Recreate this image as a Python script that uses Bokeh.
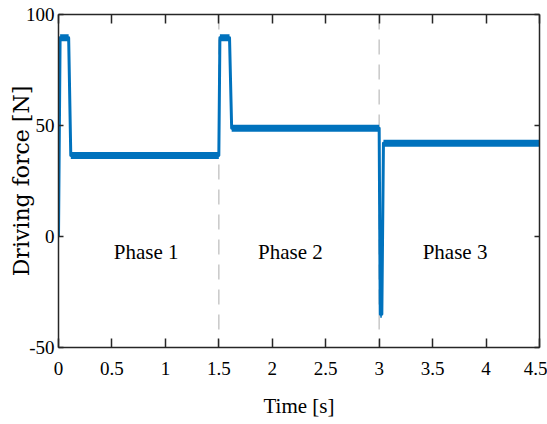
from bokeh.plotting import figure
from bokeh.models import LinearAxis, Span, Range1d, FixedTicker, CustomLabelingPolicy
from bokeh.embed import file_html
from bokeh.resources import INLINE

# ---- data ----
time_s = [0.0, 0.015, 0.095, 0.115, 1.500, 1.510, 1.600, 1.620, 3.000, 3.010, 3.025, 3.040, 4.500]
force_n = [0.0, 89.5, 89.5, 36.5, 36.5, 89.5, 89.5, 48.8, 48.8, -35.0, -35.0, 42.0, 42.0]

phase_boundaries = [1.5, 3.0]
phase_names = ["Phase 1", "Phase 2", "Phase 3"]
phase_x = [0.82, 2.17, 3.71]
phase_y = [-7.0, -7.0, -7.0]

x_ticks = [0, 0.5, 1, 1.5, 2, 2.5, 3, 3.5, 4, 4.5]
x_tick_labels = ["0", "0.5", "1", "1.5", "2", "2.5", "3", "3.5", "4", "4.5"]
y_ticks = [-50, 0, 50, 100]
y_tick_labels = ["-50", "0", "50", "100"]

BLUE = "#0072BD"
AX = "#262626"
SERIF = "Liberation Serif"

p = figure(width=547, height=424, output_backend="svg", toolbar_location=None,
           x_range=Range1d(0, 4.5), y_range=Range1d(-50, 100),
           min_border_left=58, min_border_right=8, min_border_top=14, min_border_bottom=77)
p.background_fill_color = "white"
p.border_fill_color = "white"
p.outline_line_color = None
p.xgrid.visible = False
p.ygrid.visible = False

# phase boundaries
for b in phase_boundaries:
    p.add_layout(Span(location=b, dimension="height", line_color="#c8c8c8",
                      line_width=1.5, line_dash="15 10", level="underlay"))

# trace
p.line(time_s, force_n, line_color=BLUE, line_width=3, line_join="round")

# thicker bands on steady plateaus (noise envelope)
x0, x1, ys = [], [], []
for i in range(len(time_s) - 1):
    if force_n[i] == force_n[i + 1]:
        x0.append(time_s[i]); x1.append(time_s[i + 1]); ys.append(force_n[i])
p.segment(x0=x0, y0=ys, x1=x1, y1=ys, line_color=BLUE, line_width=7, line_cap="butt")

# phase labels
p.text(x=phase_x, y=phase_y, text=phase_names, text_align="center", text_baseline="middle",
       text_font_size="21px", text_color="black", text_font={"value": SERIF})

no_labels = CustomLabelingPolicy(code="""
    for (const i of indices) { indices.unset(i) }
    return indices
""")

def style_axis(ax, tick_in, labels=True):
    ax.axis_line_color = AX
    ax.axis_line_width = 1.5
    ax.major_tick_line_color = AX
    ax.major_tick_line_width = 1.5
    ax.major_tick_in = tick_in
    ax.major_tick_out = 0
    ax.minor_tick_line_color = None
    ax.major_label_text_font = SERIF
    ax.major_label_text_color = "black"
    ax.major_label_text_font_size = "19px"
    if not labels:
        ax.major_label_policy = no_labels
        ax.major_label_text_font_size = "0px"
        ax.major_label_standoff = 0

xa = p.xaxis[0]
xa.ticker = FixedTicker(ticks=x_ticks)
xa.major_label_overrides = dict(zip(x_ticks, x_tick_labels))
style_axis(xa, 9)
xa.major_label_standoff = 14
xa.axis_label = "Time [s]"
xa.axis_label_text_font = SERIF
xa.axis_label_text_font_style = "normal"
xa.axis_label_text_font_size = "21px"
xa.axis_label_text_color = "black"
xa.axis_label_standoff = 16

ya = p.yaxis[0]
ya.ticker = FixedTicker(ticks=y_ticks)
ya.major_label_overrides = dict(zip(y_ticks, y_tick_labels))
style_axis(ya, 5)
ya.major_label_standoff = 4
ya.axis_label = "Driving force [N]"
ya.axis_label_text_font = "DejaVu Serif"
ya.axis_label_text_font_style = "normal"
ya.axis_label_text_font_size = "22px"
ya.axis_label_text_color = "black"
ya.axis_label_standoff = -11

top = LinearAxis(ticker=FixedTicker(ticks=x_ticks))
style_axis(top, 9, labels=False)
p.add_layout(top, "above")
right = LinearAxis(ticker=FixedTicker(ticks=y_ticks))
style_axis(right, 5, labels=False)
p.add_layout(right, "right")

open("out.html", "w").write(file_html(p, INLINE))
